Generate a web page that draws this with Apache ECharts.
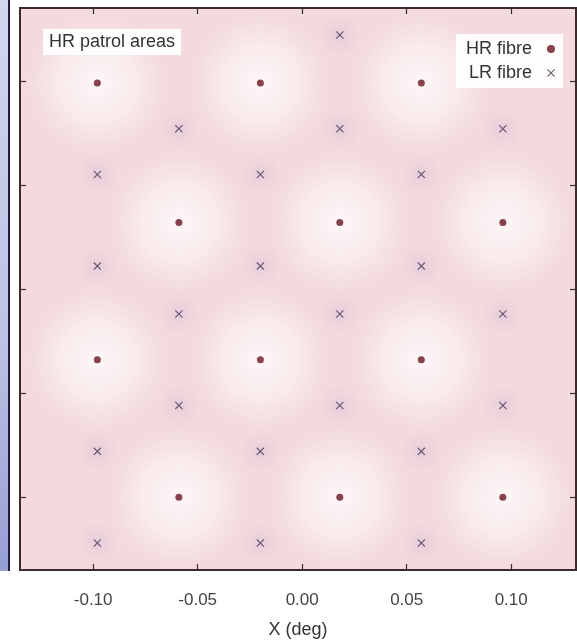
<!DOCTYPE html>
<html>
<head>
<meta charset="utf-8">
<script src="https://cdn.jsdelivr.net/npm/echarts@6/dist/echarts.min.js"></script>
<style>
  html, body { margin: 0; padding: 0; background: #fff; }
  #chart { width: 577px; height: 640px; }
</style>
</head>
<body>
<div id="chart"></div>
<script>
/*
 * HR / LR fibre positions (deg)
 */
var xTicks = [-0.10, -0.05, 0.00, 0.05, 0.10];
var yTicks = [-0.10, -0.05, 0.00, 0.05, 0.10];

// HR fibres: [x, y]
var hrX = [-0.098, -0.020, 0.057, -0.059, 0.018, 0.096, -0.098, -0.020, 0.057, -0.059, 0.018, 0.096];
var hrY = [0.099, 0.099, 0.099, 0.032, 0.032, 0.032, -0.034, -0.034, -0.034, -0.100, -0.100, -0.100];

// LR fibres: [x, y]
var lrX = [0.018,
	-0.059, 0.018, 0.096,
	-0.098, -0.020, 0.057,
	-0.098, -0.020, 0.057,
	-0.059, 0.018, 0.096,
	-0.059, 0.018, 0.096,
	-0.098, -0.020, 0.057,
	-0.098, -0.020, 0.057];
var lrY = [0.122,
	0.077, 0.077, 0.077,
	0.055, 0.055, 0.055,
	0.011, 0.011, 0.011,
	-0.012, -0.012, -0.012,
	-0.056, -0.056, -0.056,
	-0.078, -0.078, -0.078,
	-0.122, -0.122, -0.122];

function pairs(xs, ys) {
	var out = [];
	for (var i = 0; i < xs.length; i++) {
		out.push([xs[i], ys[i]]);
	}
	return out;
}
var hrData = pairs(hrX, hrY);
var lrData = pairs(lrX, lrY);

var crossPath = 'path://M0,1L1,0L5,4L9,0L10,1L6,5L10,9L9,10L5,6L1,10L0,9L4,5Z';
var fmt = function(v) { return v.toFixed(2); };

var dom = document.getElementById('chart');
var myChart = echarts.init(dom, null, { renderer: 'canvas' });

var tickStyle = { color : '#3b2a2a', width : 1.2 };
var axisCommon = {
	type : 'value',
	min : -0.135,
	splitLine : { show : false },
	axisLine : { show : false, onZero : false }
};

option = {
	animation : false,
	textStyle : { fontFamily : 'Liberation Sans, Arial, sans-serif' },
	title : {
		text : 'HR patrol areas',
		left : 43,
		top : 29,
		padding : [4, 6],
		backgroundColor : 'rgba(255,255,255,0.92)',
		textStyle : { fontSize : 18, fontWeight : 'normal', color : '#333' }
	},
	legend : {
		data : ['HR fibre', 'LR fibre'],
		orient : 'vertical',
		align : 'right',
		right : 14,
		top : 34,
		itemGap : 6,
		itemWidth : 8,
		itemHeight : 8,
		padding : [6, 8, 6, 10],
		backgroundColor : 'rgba(255,255,255,0.9)',
		textStyle : { fontSize : 18, color : '#333', padding : [0, 10, 0, 0] }
	},
	grid : {
		show : true,
		left : 20,
		right : 1,
		top : 8,
		bottom : 70,
		outerBoundsMode : 'none',
		containLabel : false,
		backgroundColor : '#f3dadd',
		borderColor : '#3b2a2a',
		borderWidth : 2
	},
	xAxis : [
		Object.assign({}, axisCommon, {
			max : 0.131,
			position : 'bottom',
			name : 'X (deg)',
			nameLocation : 'middle',
			nameGap : 51,
			nameTextStyle : { fontSize : 18, color : '#333' },
			axisTick : { inside : true, length : 6, customValues : xTicks, lineStyle : tickStyle },
			axisLabel : { customValues : xTicks, formatter : fmt, fontSize : 17, color : '#444', margin : 22 }
		}),
		Object.assign({}, axisCommon, {
			max : 0.131,
			position : 'top',
			axisTick : { inside : true, length : 6, customValues : xTicks, lineStyle : tickStyle },
			axisLabel : { show : false }
		})
	],
	yAxis : [
		Object.assign({}, axisCommon, {
			max : 0.135,
			position : 'left',
			axisTick : { inside : true, length : 6, customValues : yTicks, lineStyle : tickStyle },
			axisLabel : { show : false }
		}),
		Object.assign({}, axisCommon, {
			max : 0.135,
			position : 'right',
			axisTick : { inside : true, length : 6, customValues : yTicks, lineStyle : tickStyle },
			axisLabel : { show : false }
		})
	],
	series : [
		{
			// pale patrol area round each HR fibre
			name : 'HR area',
			type : 'scatter',
			data : hrData,
			symbol : 'circle',
			symbolSize : 140,
			silent : true,
			z : 1,
			itemStyle : {
				color : {
					type : 'radial', x : 0.5, y : 0.5, r : 0.5,
					colorStops : [
						{ offset : 0, color : 'rgba(255,255,255,0.95)' },
						{ offset : 0.55, color : 'rgba(253,245,246,0.75)' },
						{ offset : 1, color : 'rgba(250,238,240,0)' }
					]
				}
			}
		},
		{
			// deeper tint round each LR fibre
			name : 'LR area',
			type : 'scatter',
			data : lrData,
			symbol : 'circle',
			symbolSize : 44,
			silent : true,
			z : 1,
			itemStyle : {
				color : {
					type : 'radial', x : 0.5, y : 0.5, r : 0.5,
					colorStops : [
						{ offset : 0, color : 'rgba(212,188,220,0.6)' },
						{ offset : 1, color : 'rgba(236,200,210,0)' }
					]
				}
			}
		},
		{
			name : 'HR fibre',
			type : 'scatter',
			data : hrData,
			symbol : 'circle',
			symbolSize : 7,
			z : 3,
			itemStyle : { color : '#6a1420' }
		},
		{
			name : 'LR fibre',
			type : 'scatter',
			data : lrData,
			symbol : crossPath,
			symbolSize : 8,
			z : 3,
			itemStyle : { color : '#463650' }
		}
	],
	graphic : [
		{
			// edge of the neighbouring panel
			type : 'rect',
			shape : { x : 0, y : 0, width : 9, height : 571 },
			style : {
				fill : {
					type : 'linear', x : 0, y : 0, x2 : 0, y2 : 1,
					colorStops : [
						{ offset : 0, color : '#d2d5ee' },
						{ offset : 0.6, color : '#bcc2e5' },
						{ offset : 1, color : '#959ed3' }
					]
				}
			},
			silent : true
		},
		{
			type : 'rect',
			shape : { x : 8, y : 0, width : 2, height : 571 },
			style : { fill : '#1d1d45' },
			silent : true
		}
	]
};
myChart.setOption(option);
</script>
</body>
</html>
